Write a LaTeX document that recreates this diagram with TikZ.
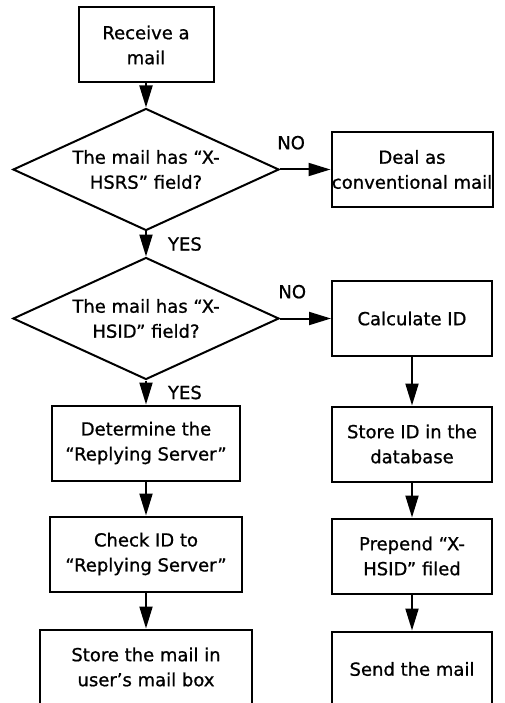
\documentclass[tikz,border=0pt]{standalone}
\usepackage{fontspec}
\setmainfont[FakeBold=0.9]{DejaVu Sans}
\usetikzlibrary{shapes.geometric, positioning, arrows.meta}

\begin{document}
\begin{tikzpicture}[x=1pt, y=1pt,
        every node/.append style={font=\fontsize{18}{25}\selectfont},
        procbox/.style={draw, line width=2pt, align=center, minimum height=75pt, inner sep=0pt},
        decision/.style={draw, diamond, shape aspect=2.18, line width=2pt, align=center, minimum width=266pt, minimum height=122pt, inner sep=0pt},
        flow/.style={line width=2pt, -{Triangle[length=22pt, width=13pt]}},
        lbl/.style={inner sep=0pt}]
        \useasboundingbox (0,0) rectangle (504,-703);
        \clip (0,0) rectangle (504,-703);

        %colonna di sinistra
        \node[procbox, minimum width=135pt] (recv) at (146,-45) {Receive a\\mail};
        \node[decision] (q1) at (146,-169.5) {The mail has “X-\\HSRS” field?};
        \node[decision] (q2) at (146,-318.5) {The mail has “X-\\HSID” field?};
        \node[procbox, minimum width=188pt] (det) at (146,-443) {Determine the\\“Replying Server”};
        \node[procbox, minimum width=192pt] (chk) at (146,-554) {Check ID to\\“Replying Server”};
        \node[procbox, minimum width=212pt] (store) at (146,-667) {Store the mail in\\user’s mail box};

        %colonna di destra
        \node[procbox, minimum width=161pt] (deal) at (412,-169.5) {Deal as\\conventional mail};
        \node[procbox, minimum width=160pt] (calc) at (412,-318.5) {Calculate ID};
        \node[procbox, minimum width=160pt] (storeid) at (412,-444) {Store ID in the\\database};
        \node[procbox, minimum width=160pt] (prep) at (412,-556) {Prepend “X-\\HSID” filed};
        \node[procbox, minimum width=160pt] (send) at (412,-669) {Send the mail};

        %frecce e label
        \draw[flow] (recv) -- (q1);
        \draw[flow] (q1) -- node[lbl, pos=0.22, above=19pt] {NO} (deal);
        \draw[flow] (q1) -- node[lbl, pos=0.5, right=21pt] {YES} (q2);
        \draw[flow] (q2) -- node[lbl, pos=0.24, above=19pt] {NO} (calc);
        \draw[flow] (q2) -- node[lbl, pos=0.5, right=21pt] {YES} (det);
        \draw[flow] (det) -- (chk);
        \draw[flow] (chk) -- (store);
        \draw[flow] (calc) -- (storeid);
        \draw[flow] (storeid) -- (prep);
        \draw[flow] (prep) -- (send);
    \end{tikzpicture}
\end{document}
